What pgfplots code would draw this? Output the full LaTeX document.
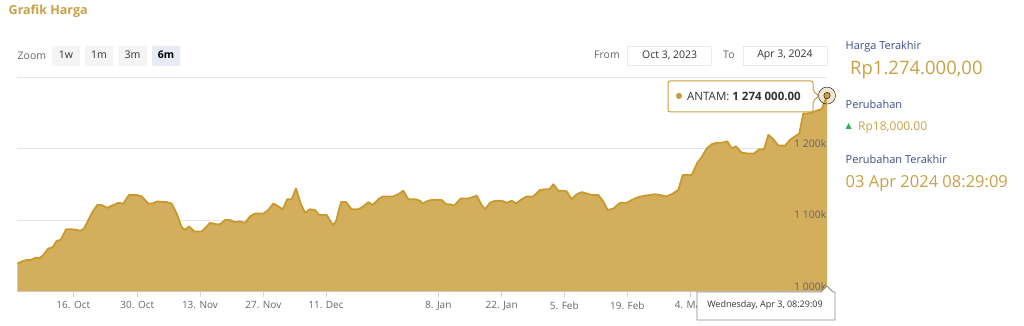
\documentclass[border=0pt]{standalone}
\usepackage{pgfplots}
\pgfplotsset{compat=1.18}
\usepackage{fontspec}
\setmainfont{Open Sans}
\newfontfamily\symfont{DejaVu Sans}
\definecolor{gold}{HTML}{C9A043}
\definecolor{goldfill}{HTML}{D3AE5C}
\definecolor{goldline}{HTML}{C8992E}
\definecolor{navy}{HTML}{3F4C87}
\definecolor{txt}{HTML}{666666}
\definecolor{dark}{HTML}{333333}
\definecolor{tickc}{HTML}{CCD6EB}
\definecolor{gridc}{HTML}{E6E6E6}
\definecolor{btn}{HTML}{F4F4F4}
\definecolor{btnsel}{HTML}{E6EBF5}
\definecolor{upgreen}{HTML}{2DB34A}
\newcommand{\fs}[1]{\fontsize{#1}{#1}\selectfont}
\begin{document}
\begin{tikzpicture}[x=1pt,y=1pt]
\path[use as bounding box] (0,0) rectangle (1024,326);
\begin{axis}[
  at={(17.3pt,34.5pt)}, anchor=south west,
  scale only axis, width=809.7pt, height=214.5pt,
  xmin=17.3, xmax=827, ymin=1000, ymax=1300,
  axis x line*=bottom, axis y line*=left,
  y axis line style={draw=none},
  x axis line style={color=tickc},
  ytick={1000,1100,1200,1300}, yticklabels={},
  ytick style={draw=none},
  ymajorgrids, grid style={color=gridc, line width=0.8pt},
  xtick={73.3,137.3,200,263.3,326,438.3,501.7,564.3,627.3,690},
  xticklabels={16. Oct,30. Oct,13. Nov,27. Nov,11. Dec,8. Jan,22. Jan,5. Feb,19. Feb,4. Mar},
  xtick style={color=tickc, line width=0.8pt},
  tick align=outside, major tick length=6pt,
  x tick label style={font=\fs{10}, text=txt, inner sep=4pt},
  clip=false,
]
\addplot[draw=none, fill=goldfill] coordinates {
(17.3,1039)(21.7,1042)(26.7,1044)(30.7,1044)(35,1047)(40,1047)(43.3,1051)(48.3,1060)(52.7,1062)(56.7,1071)
(60.7,1072)(66,1087)(71.7,1087)(76.7,1086)(80.7,1085)(84,1088)(92.7,1112)(97.3,1121)(101.7,1121)(107.3,1117)
(111.7,1120)(118.3,1124)(123.3,1123)(129,1135)(136.7,1135)(141.7,1133)(148.3,1123)(152.7,1123)(156.7,1126)(166.7,1125)
(171.7,1123)(176.7,1109)(181.7,1090)(185,1086)(189,1091)(194.3,1084)(201.7,1084)(206.7,1091)(210,1096)(216.7,1094)
(220,1094)(225,1100)(230,1100)(235,1097)(240,1098)(245,1096)(250,1105)(255,1109)(263.3,1109)(268.3,1114)
(273.3,1123)(278.3,1119)(282.7,1115)(287.3,1129)(291.7,1129)(296,1144)(300.7,1123)(305,1110)(310,1115)(315,1114)
(319.3,1107)(326.7,1107)(332.7,1093)(336,1098)(341,1125)(346,1125)(351.7,1115)(358.3,1115)(363.3,1119)(368.3,1125)
(372.7,1121)(378.3,1129)(382.7,1133)(393.3,1133)(398.3,1136)(403.3,1141)(408.3,1129)(415,1129)(420,1127)(422.7,1123)
(428.3,1127)(431.7,1128)(441.7,1128)(446,1122)(450,1122)(454,1120)(460.7,1130)(468.3,1130)(476.7,1134)(481.7,1121)
(485,1115)(490,1124)(495,1127)(501.7,1127)(506.7,1124)(511.7,1127)(516,1123)(521.7,1129)(526.7,1133)(533.3,1133)
(540,1142)(546.7,1143)(549.3,1143)(553.3,1150)(558.3,1141)(563.3,1141)(566.7,1140)(571.7,1129)(576.7,1136)(581.7,1139)
(586.7,1137)(591.7,1135)(598.3,1135)(603.3,1126)(607.7,1114)(613.3,1116)(620,1124)(626.7,1124)(631.7,1128)(638.3,1132)
(645,1134)(650,1135)(655,1136)(660,1135)(666,1133)(671.7,1136)(678.3,1142)(682.7,1163)(691.7,1163)(697.3,1180)
(701.7,1188)(706.7,1200)(711.7,1206)(716.7,1208)(721.7,1208)(727.3,1210)(731.7,1200)(736,1203)(741.7,1194)(748.3,1193)
(754,1193)(759.3,1199)(764,1199)(768.3,1219)(773.3,1213)(778.3,1204)(785,1204)(790,1212)(795,1217)(799.3,1221)
(803.3,1249)(806.7,1249)(811.7,1250)(816.7,1253)(821.7,1255)(827,1274)
} \closedcycle;
\addplot[color=goldline, line width=1.8pt, line join=round] coordinates {
(17.3,1039)(21.7,1042)(26.7,1044)(30.7,1044)(35,1047)(40,1047)(43.3,1051)(48.3,1060)(52.7,1062)(56.7,1071)
(60.7,1072)(66,1087)(71.7,1087)(76.7,1086)(80.7,1085)(84,1088)(92.7,1112)(97.3,1121)(101.7,1121)(107.3,1117)
(111.7,1120)(118.3,1124)(123.3,1123)(129,1135)(136.7,1135)(141.7,1133)(148.3,1123)(152.7,1123)(156.7,1126)(166.7,1125)
(171.7,1123)(176.7,1109)(181.7,1090)(185,1086)(189,1091)(194.3,1084)(201.7,1084)(206.7,1091)(210,1096)(216.7,1094)
(220,1094)(225,1100)(230,1100)(235,1097)(240,1098)(245,1096)(250,1105)(255,1109)(263.3,1109)(268.3,1114)
(273.3,1123)(278.3,1119)(282.7,1115)(287.3,1129)(291.7,1129)(296,1144)(300.7,1123)(305,1110)(310,1115)(315,1114)
(319.3,1107)(326.7,1107)(332.7,1093)(336,1098)(341,1125)(346,1125)(351.7,1115)(358.3,1115)(363.3,1119)(368.3,1125)
(372.7,1121)(378.3,1129)(382.7,1133)(393.3,1133)(398.3,1136)(403.3,1141)(408.3,1129)(415,1129)(420,1127)(422.7,1123)
(428.3,1127)(431.7,1128)(441.7,1128)(446,1122)(450,1122)(454,1120)(460.7,1130)(468.3,1130)(476.7,1134)(481.7,1121)
(485,1115)(490,1124)(495,1127)(501.7,1127)(506.7,1124)(511.7,1127)(516,1123)(521.7,1129)(526.7,1133)(533.3,1133)
(540,1142)(546.7,1143)(549.3,1143)(553.3,1150)(558.3,1141)(563.3,1141)(566.7,1140)(571.7,1129)(576.7,1136)(581.7,1139)
(586.7,1137)(591.7,1135)(598.3,1135)(603.3,1126)(607.7,1114)(613.3,1116)(620,1124)(626.7,1124)(631.7,1128)(638.3,1132)
(645,1134)(650,1135)(655,1136)(660,1135)(666,1133)(671.7,1136)(678.3,1142)(682.7,1163)(691.7,1163)(697.3,1180)
(701.7,1188)(706.7,1200)(711.7,1206)(716.7,1208)(721.7,1208)(727.3,1210)(731.7,1200)(736,1203)(741.7,1194)(748.3,1193)
(754,1193)(759.3,1199)(764,1199)(768.3,1219)(773.3,1213)(778.3,1204)(785,1204)(790,1212)(795,1217)(799.3,1221)
(803.3,1249)(806.7,1249)(811.7,1250)(816.7,1253)(821.7,1255)(827,1274)
};
\addplot[only marks, mark=*, mark size=8.5pt, mark options={draw=none, fill=gold, fill opacity=0.25}] coordinates {(827,1274)};
\addplot[only marks, mark=*, mark size=3.2pt, mark options={draw=none, fill=gold}] coordinates {(827,1274)};
\node[anchor=base east, inner sep=0pt, font=\fs{10.5}, text=txt] at (axis cs:826.5,1002) {1 000k};
\node[anchor=base east, inner sep=0pt, font=\fs{10.5}, text=txt] at (axis cs:826.5,1102) {1 100k};
\node[anchor=base east, inner sep=0pt, font=\fs{10.5}, text=txt] at (axis cs:826.5,1202) {1 200k};
\end{axis}
\begin{scope}[yshift=326pt, y=-1pt]
% title
\node[anchor=west, inner sep=0pt, font=\bfseries\fs{12.5}, text=gold] at (8.5,11) {Grafik Harga};
% zoom buttons
\node[anchor=west, inner sep=0pt, font=\fs{10.5}, text=txt] at (17.5,56) {Zoom};
\fill[btn, rounded corners=1.5pt] (52,46) rectangle (80,66);
\fill[btn, rounded corners=1.5pt] (85,46) rectangle (113,66);
\fill[btn, rounded corners=1.5pt] (118,46) rectangle (147,66);
\fill[btnsel, rounded corners=1.5pt] (152,46) rectangle (180,66);
\node[font=\fs{10.5}, text=dark] at (66,55) {1w};
\node[font=\fs{10.5}, text=dark] at (99,55) {1m};
\node[font=\fs{10.5}, text=dark] at (132.5,55) {3m};
\node[font=\bfseries\fs{10.5}, text=black] at (166,55) {6m};
% range inputs
\node[anchor=west, inner sep=0pt, font=\fs{10.5}, text=txt] at (594,54.5) {From};
\draw[color=gridc!80!black!30, line width=0.8pt, fill=white] (627.7,46) rectangle (711.7,65);
\node[font=\fs{10.5}, text=dark] at (669.7,55) {Oct 3, 2023};
\node[anchor=west, inner sep=0pt, font=\fs{10.5}, text=txt] at (723,54.5) {To};
\draw[color=gridc!80!black!30, line width=0.8pt, fill=white] (743,46) rectangle (827,65);
\node[font=\fs{10.5}, text=dark] at (785,55) {Apr 3, 2024};
% right panel
\node[anchor=west, inner sep=0pt, font=\fs{11}, text=navy] at (845.5,46.5) {Harga Terakhir};
\node[anchor=west, inner sep=0pt, font=\fs{18.5}, text=gold] at (850,70) {Rp1.274.000,00};
\node[anchor=west, inner sep=0pt, font=\fs{11}, text=navy] at (845.5,104) {Perubahan};
\node[anchor=west, inner sep=0pt, font=\symfont\fs{8}, text=upgreen] at (845.5,126.5) {▲};
\node[anchor=west, inner sep=0pt, font=\fs{12}, text=gold] at (858,127.5) {Rp18,000.00};
\node[anchor=west, inner sep=0pt, font=\fs{11}, text=navy] at (845.5,159.5) {Perubahan Terakhir};
\node[anchor=west, inner sep=0pt, font=\fs{16.5}, text=gold] at (845.5,183.5) {03 Apr 2024 08:29:09};
% tooltip (top)
\draw[color=gold, line width=1pt, fill=white, fill opacity=0.92, rounded corners=2pt]
  (668,81) -- (813,81) -- (813,91) -- (819,96) -- (813,101) -- (813,112) -- (668,112) -- cycle;
\node[anchor=west, inner sep=0pt, font=\symfont\fs{8}, text=gold] at (675.5,96) {●};
\node[anchor=west, inner sep=0pt, font=\fs{11.5}, text=dark] at (687,96.5) {ANTAM: \textbf{1 274 000.00}};
% tooltip (bottom)
\draw[color=black!45, line width=0.8pt, fill=white]
  (697,292) -- (821,292) -- (827,286) -- (833,292) -- (835,292) -- (835,320) -- (697,320) -- cycle;
\node[font=\fs{9}, text=dark] at (765,305.5) {Wednesday, Apr 3, 08:29:09};
\end{scope}
\end{tikzpicture}
\end{document}
